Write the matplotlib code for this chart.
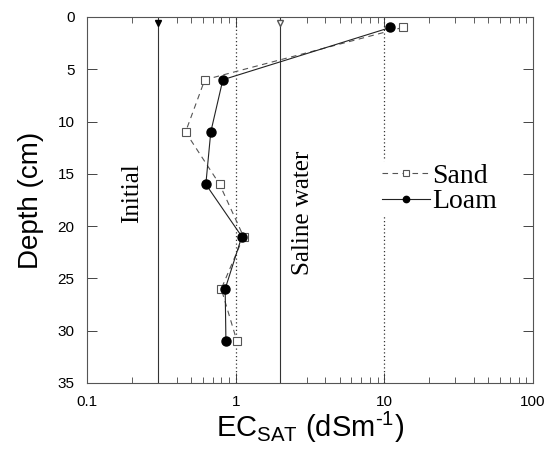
import matplotlib
matplotlib.use("Agg")
import matplotlib.pyplot as plt
from matplotlib.ticker import LogLocator, FixedLocator, NullFormatter, FixedFormatter

plt.rcParams['font.family'] = ['Liberation Sans', 'DejaVu Sans']
plt.rcParams['mathtext.fontset'] = 'custom'
plt.rcParams['mathtext.rm'] = 'Liberation Sans'
plt.rcParams['mathtext.it'] = 'Liberation Sans'

depth = [1, 6, 11, 16, 21, 26, 31]
sand = [13.3, 0.62, 0.46, 0.78, 1.13, 0.80, 1.02]
loam = [11.0, 0.82, 0.68, 0.63, 1.10, 0.85, 0.86]
initial_ec = 0.3
saline_ec = 2.0
ref_lines = [1, 10]
xticks = [0.1, 1, 10, 100]
xticklabels = ['0.1', '1', '10', '100']
yticks = [0, 5, 10, 15, 20, 25, 30, 35]

fig = plt.figure(figsize=(5.47, 4.55), dpi=100)
ax = fig.add_axes([87/547, 72/455, 446/547, 366/455])
ax.set_xscale('log')
ax.set_xlim(0.1, 100)
ax.set_ylim(35, 0)

lc = '#333333'
for xv in ref_lines:
    ax.axvline(xv, color=lc, lw=0.9, ls=(0, (1, 2)))
ax.axvline(initial_ec, color=lc, lw=0.8)
ax.axvline(saline_ec, color=lc, lw=0.8)
ax.plot([initial_ec], [0.6], marker='v', color='black', ms=5, ls='none')
ax.plot([saline_ec], [0.6], marker='v', mfc='white', mec='#555555', ms=5, ls='none')

ax.plot(sand, depth, ls=(0, (5, 4)), color='#555555', lw=0.8, marker='s', ms=5.5,
        mfc='white', mec='#555555', mew=0.8, label='Sand')
ax.plot(loam, depth, ls='-', color='#222222', lw=0.8, marker='o', ms=6.5,
        mfc='black', mec='black', label='Loam')

ax.text(0.2, 16.8, 'Initial', rotation=90, ha='center', va='center',
        family=['Liberation Serif'], fontsize=18)
ax.text(2.85, 18.7, 'Saline water', rotation=90, ha='center', va='center',
        family=['Liberation Serif'], fontsize=18)

leg = ax.legend(loc='upper left', bbox_to_anchor=(0.625, 0.645), frameon=True,
                prop={'family': 'Liberation Serif', 'size': 20}, handlelength=1.7,
                handletextpad=0.1, borderpad=0.1, labelspacing=0.0, markerscale=0.7)
leg.get_frame().set_edgecolor('none')
leg.get_frame().set_facecolor('white')
leg.get_frame().set_alpha(1.0)

ax.xaxis.set_major_locator(FixedLocator(xticks))
ax.xaxis.set_major_formatter(FixedFormatter(xticklabels))
ax.xaxis.set_minor_locator(LogLocator(base=10, subs=range(2, 10)))
ax.xaxis.set_minor_formatter(NullFormatter())
ax.set_yticks(yticks)
ax.tick_params(which='both', direction='in', top=True, right=True, labelsize=11, colors='#444444')
ax.tick_params(which='major', length=7, width=0.7)
ax.tick_params(which='minor', length=4, width=0.6)
ax.tick_params(axis='x', pad=9)
ax.tick_params(axis='y', pad=9)
for lab in ax.get_xticklabels() + ax.get_yticklabels():
    lab.set_color('black')
for s in ax.spines.values():
    s.set_color('#555555')
    s.set_linewidth(0.8)

ax.set_ylabel('Depth (cm)', fontsize=20, labelpad=10)
ax.set_xlabel(r'EC$_{\mathrm{SAT}}$ (dSm$^{\text{-1}}$)', fontsize=21, labelpad=0)

fig.savefig('out.png', dpi=100)
